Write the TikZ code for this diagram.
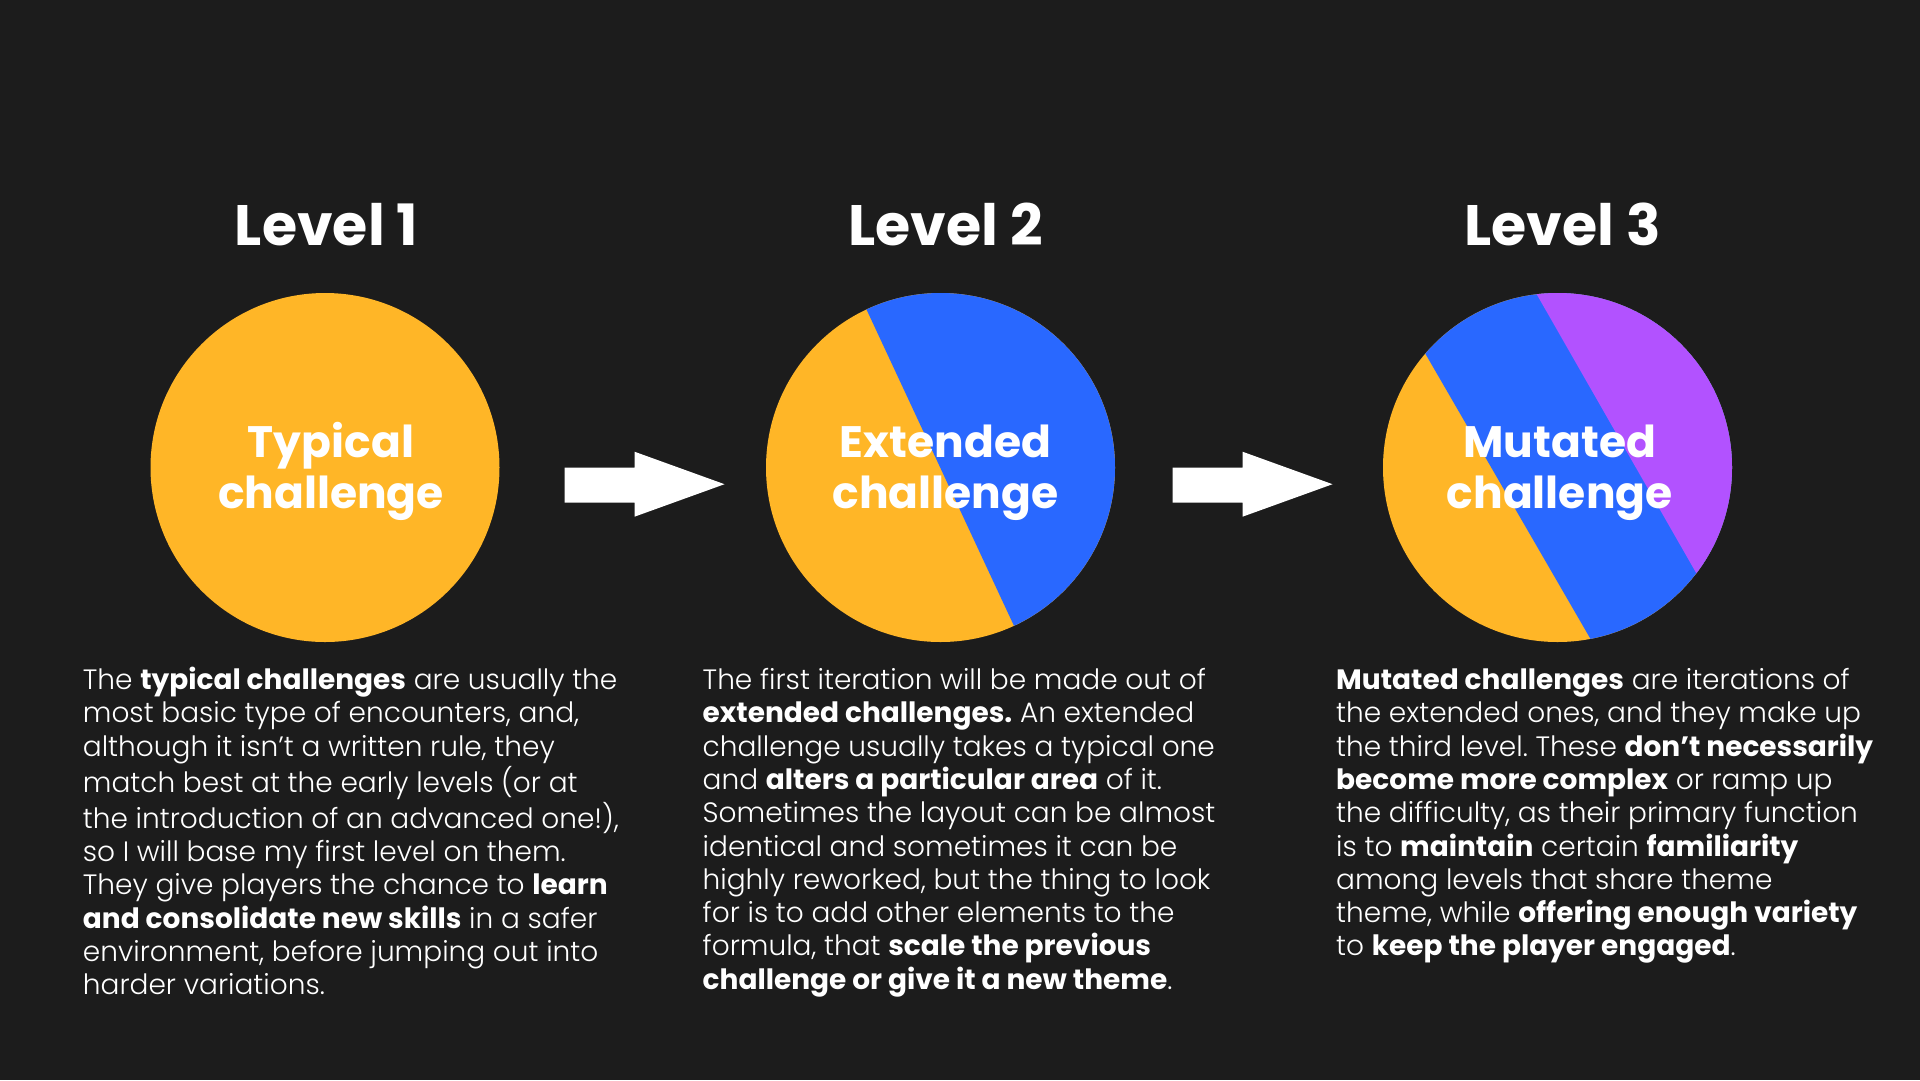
\documentclass[tikz,border=0pt]{standalone}
\usepackage{fontspec}
\setmainfont{Poppins Light}[BoldFont=Poppins Bold]
\newfontfamily\headfont{Poppins Bold}
\usetikzlibrary{calc}

\definecolor{bg}{HTML}{1C1C1C}
\definecolor{cyellow}{HTML}{FFB627}
\definecolor{cblue}{HTML}{2968FF}
\definecolor{cpurple}{HTML}{B252FF}

% white block arrow whose shaft starts at x = #1
\newcommand{\blockarrow}[1]{%
  \fill[white] (#1,467.7) -- (#1+70,467.7) -- (#1+70,451.7) -- (#1+160,484.2)
    -- (#1+70,516.7) -- (#1+70,502.7) -- (#1,502.7) -- cycle;}

\frenchspacing
\begin{document}
\begin{tikzpicture}[x=1pt,y=-1pt,
  title/.style={text=white, inner sep=0, anchor=base,
    font=\fontsize{57}{68}\selectfont\headfont},
  disc/.style={circle, fill=cyellow, minimum size=349, inner sep=0},
  disclabel/.style={text=white, inner sep=0, anchor=base,
    font=\fontsize{44}{51}\selectfont\headfont},
  body/.style={text=white, inner sep=0, anchor=base west,
    font=\fontsize{28}{33.3}\selectfont}]

\useasboundingbox[fill=bg] (0,0) rectangle (1920,1080);

% headings
\node[title] (t1) at (326.7,245) {Level 1};
\node[title] (t2) at (945.3,245) {Level 2};
\node[title] (t3) at (1562.4,245) {Level 3};

% discs
\node[disc] (c1) at (325,467.5) {};
\node[disc] (c2) at (940.5,467.5) {};
\node[disc] (c3) at (1557.5,467.5) {};

\begin{scope}
  \clip (c2.center) circle (174.5);
  \fill[cblue] (824.5,219.4) -- (1200,219.4) -- (1200,716.6) -- (1056.3,716.6) -- cycle;
\end{scope}
\begin{scope}
  \clip (c3.center) circle (174.5);
  \fill[cblue] (1375.6,267.8) -- (1800,267.8) -- (1800,725.8) -- (1640.8,725.8) -- cycle;
  \fill[cpurple] (1487,207.5) -- (1800,207.5) -- (1800,659.5) -- (1745.7,659.5) -- cycle;
\end{scope}

\node[disclabel] (l1) at (331,457.3) {\begin{tabular}[t]{@{}c@{}}Typical\\challenge\end{tabular}};
\node[disclabel] (l2) at (945.5,457.3) {\begin{tabular}[t]{@{}c@{}}Extended\\challenge\end{tabular}};
\node[disclabel] (l3) at (1559.7,457.3) {\begin{tabular}[t]{@{}c@{}}Mutated\\challenge\end{tabular}};

% arrows between the discs
\blockarrow{564.5}
\blockarrow{1172.5}

% descriptions
\node[body] (d1) at (82.7,689.5) {\begin{tabular}[t]{@{}l@{}}
The \textbf{typical challenges} are usually the\\
most basic type of encounters, and,\\
although it isn’t a written rule, they\\
match best at the early levels (or at\\
the introduction of an advanced one!),\\
so I will base my first level on them.\\
They give players the chance to \textbf{learn}\\
\textbf{and consolidate new skills} in a safer\\
environment, before jumping out into\\
harder variations.
\end{tabular}};

\node[body] (d2) at (702.5,689.5) {\begin{tabular}[t]{@{}l@{}}
The first iteration will be made out of\\
\textbf{extended challenges.} An extended\\
challenge usually takes a typical one\\
and \textbf{alters a particular area} of it.\\
Sometimes the layout can be almost\\
identical and sometimes it can be\\
highly reworked, but the thing to look\\
for is to add other elements to the\\
formula, that \textbf{scale the previous}\\
\textbf{challenge or give it a new theme}.
\end{tabular}};

\node[body] (d3) at (1336,689.5) {\begin{tabular}[t]{@{}l@{}}
\textbf{Mutated challenges} are iterations of\\
the extended ones, and they make up\\
the third level. These \textbf{don’t necessarily}\\
\textbf{become more complex} or ramp up\\
the difficulty, as their primary function\\
is to \textbf{maintain} certain \textbf{familiarity}\\
among levels that share theme\\
theme, while \textbf{offering enough variety}\\
to \textbf{keep the player engaged}.
\end{tabular}};

\end{tikzpicture}
\end{document}
